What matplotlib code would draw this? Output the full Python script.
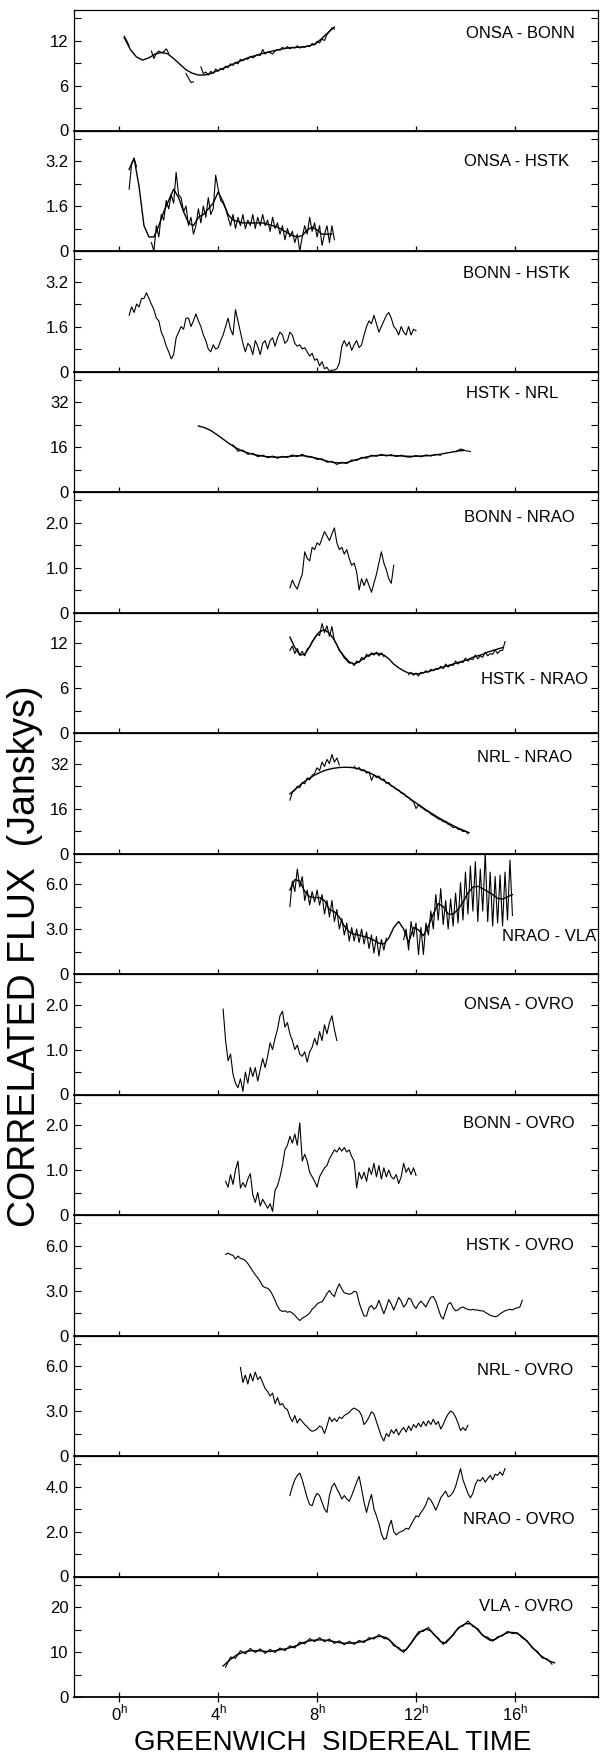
import numpy as np
import matplotlib
matplotlib.use("Agg")
import matplotlib.pyplot as plt
from matplotlib.ticker import MultipleLocator, FuncFormatter

plt.rcParams["font.family"] = ["Liberation Sans", "DejaVu Sans"]
plt.rcParams["mathtext.fontset"] = "custom"
plt.rcParams["mathtext.rm"] = "Liberation Sans"

nan = np.nan

# ---- data: correlated flux (Jy) vs GST (h), one block per baseline ----
# observed traces are sampled at 0.1 h unless noted, fits at the step given

onsa_bonn_obs = [12.6, 12.0, 11.3, nan, nan, nan, nan, nan, nan, nan, nan,
                 10.6, 9.6, 10.3, 10.6, 10.4, 10.5, 10.9, 10.3, nan, nan, nan,
                 nan, nan, nan, 7.6, 7.0, 6.4, 6.5, nan, nan,
                 8.5, 7.6, 7.8, 7.4, 7.9, 7.6, 8.2, 7.9, 8.3, 8.1, 8.6, 8.4,
                 8.9, 8.7, 9.1, 8.9, 9.5, 9.3, 9.6, 9.5, 9.9, 9.7, 9.9, 10.1,
                 10.0, 10.8, 10.2, 10.5, 10.4, 10.2, 10.6, 10.8, 10.7, 11.1,
                 10.9, 11.2, 10.9, 11.1, 11.0, 11.3, 11.0, 11.2, 11.1, 11.3,
                 11.2, 11.6, 11.4, 11.9, 11.7, 12.2, 12.0, 12.8, 13.2, 13.7, 13.5]
onsa_bonn_fit = [12.4, 10.8, 9.8, 9.4, 9.7, 10.2, 10.4, 10.25, 9.6, 8.85,
                 8.1, 7.65, 7.4, 7.4, 7.6, 7.95, 8.3, 8.65, 9.0, 9.35, 9.7,
                 9.95, 10.2, 10.4, 10.6, 10.8, 10.95, 11.05, 11.1, 11.15,
                 11.3, 11.6, 12.3, 13.1, 13.8]  # 0.25 h steps

onsa_hstk_obs = [2.2, 3.1, 3.3, 3.0, nan, nan, nan, nan, nan, 0.3, 0.0, 0.9,
                 0.5, 1.3, 1.1, 1.8, 1.5, 2.0, 1.7, 2.8, 2.0, 1.9, 1.4, 1.6,
                 0.9, 1.2, 0.6, 0.9, 1.5, 1.0, 1.6, 1.2, 1.9, 1.3, 1.5, 2.7,
                 2.2, 1.8, 1.7, 1.5, 1.2, 0.9, 1.3, 0.8, 1.2, 0.9, 1.3, 0.8,
                 1.1, 0.9, 1.3, 0.8, 1.2, 0.9, 1.3, 0.9, 1.1, 0.7, 1.2, 0.8,
                 1.0, 0.6, 0.9, 0.4, 0.8, 0.5, 0.7, 0.3, 0.6, 0.0, 0.5, 0.9,
                 0.6, 1.2, 0.7, 1.0, 0.5, 0.9, 0.2, 0.6, 0.9, 0.3, 0.9, 0.4]
onsa_hstk_fit = [2.9, 3.3, 2.3, 0.9, 0.5, 0.5, 0.9, 1.4, 1.8, 2.2, 1.9, 1.4,
                 1.0, 0.9, 1.2, 1.3, 1.5, 1.7, 2.1, 1.75, 1.3, 1.1, 1.05,
                 1.0, 1.0, 1.0, 1.0, 1.0, 0.95, 0.9, 0.85, 0.75, 0.65, 0.55,
                 0.5, 0.55, 0.75, 0.85, 0.75, 0.6, 0.6, 0.6]  # 0.2 h steps

bonn_hstk_obs = [2.0, 2.3, 2.1, 2.4, 2.3, 2.6, 2.6, 2.8, 2.6, 2.4, 2.2, 1.9,
                 1.8, 1.4, 1.2, 0.9, 0.7, 0.45, 0.6, 1.2, 1.4, 1.6, 1.5, 1.9,
                 1.9, 1.6, 1.8, 2.05, 1.8, 1.6, 1.3, 1.1, 0.8, 0.7, 0.95, 0.8,
                 0.85, 1.1, 1.3, 1.6, 1.9, 1.5, 1.3, 2.2, 1.8, 1.4, 1.0, 0.7,
                 1.0, 0.9, 0.6, 1.1, 0.9, 0.6, 1.0, 1.1, 0.8, 1.1, 1.2, 0.9,
                 1.2, 1.4, 1.3, 1.0, 1.1, 1.4, 1.3, 1.0, 0.9, 0.95, 0.8, 0.85,
                 0.7, 0.55, 0.65, 0.4, 0.45, 0.2, 0.35, 0.1, 0.15, 0.0, 0.05,
                 0.05, 0.1, 0.3, 0.9, 1.1, 0.9, 1.05, 0.75, 0.95, 1.1, 0.85,
                 0.95, 1.3, 1.6, 1.8, 1.7, 2.0, 1.7, 1.4, 1.6, 1.8, 2.0, 2.1,
                 1.9, 1.6, 1.5, 1.3, 1.6, 1.4, 1.3, 1.6, 1.3, 1.5, 1.45]

hstk_nrl_obs = [24.5, nan, nan, nan, nan, nan, nan, 16.8, 14.5, 14.9, 13.4,
                13.8, 12.6, 13.1, 12.2, 12.8, 12.0, 12.7, 12.3, 13.2, 12.6,
                13.4, 12.5, 12.4, 11.6, 11.8, 10.6, 10.9, 9.8, 10.6, 10.1,
                11.4, 11.2, 12.3, 12.0, 13.1, 12.7, 13.4, 12.8, 13.3, 12.6,
                13.1, 12.5, 12.4, 13.0, 12.5, 13.2, 12.8, 13.4, 13.1, nan,
                nan, 14.3, 15.3, 14.7, 14.4]  # 0.2 h steps
hstk_nrl_fit = [23.5, 22.9, 21.9, 20.4, 18.8, 17.2, 15.8, 14.7, 13.9, 13.3,
                12.9, 12.6, 12.45, 12.4, 12.5, 12.7, 12.9, 12.9, 12.6, 12.1,
                11.5, 10.9, 10.5, 10.3, 10.5, 11.1, 11.8, 12.4, 12.8, 13.0,
                13.1, 13.0, 12.9, 12.8, 12.7, 12.7, 12.8, 12.9, 13.1, 13.4,
                13.8, 14.2, 14.6, 14.8]  # 0.25 h steps

bonn_nrao_obs = [0.55, 0.72, 0.6, 0.52, 0.7, 0.85, 1.35, 1.2, 1.15, 1.45, 1.4,
                 1.55, 1.5, 1.65, 1.8, 1.7, 1.6, 1.75, 1.88, 1.55, 1.4, 1.45,
                 1.3, 1.4, 1.2, 1.05, 1.1, 0.9, 0.5, 0.75, 0.6, 0.75, 0.6,
                 0.45, 0.65, 0.85, 1.1, 1.35, 1.1, 0.95, 0.75, 0.65, 1.05]

hstk_nrao_obs = [11.0, 11.6, 10.6, 11.3, 10.4, 10.9, 10.3, 11.2, 11.5, 12.2,
                 12.6, 13.2, 13.0, 14.6, 13.4, 14.3, 12.9, 14.2, 12.3, 11.8,
                 11.0, 10.6, 10.0, 9.7, 9.3, 9.4, 9.0, 9.6, 9.4, 10.1, 9.8,
                 10.5, 10.2, 10.7, 10.4, 10.8, 10.3, 10.7, 10.2, nan, nan, nan,
                 nan, nan, nan, nan, nan, nan, 7.8, 8.1, 7.7, 8.0, 7.6, 8.1,
                 8.0, 8.3, 8.1, 8.5, 8.3, 8.6, 8.5, 8.9, 8.6, 9.2, 8.8, 9.1,
                 9.0, 9.6, 9.2, 9.5, 9.4, 10.0, 9.6, 9.9, 9.8, 10.4, 9.9,
                 10.3, 10.1, 10.8, 10.3, 10.6, 10.5, 11.1, 10.6, 11.0, 11.0,
                 12.2]
hstk_nrao_fit = [12.8, 11.4, 10.4, 10.5, 11.5, 12.7, 13.5, 13.8, 13.3, 12.4,
                 11.1, 10.2, 9.5, 9.2, 9.5, 10.0, 10.4, 10.6, 10.6, 10.4, 9.9,
                 9.2, 8.7, 8.3, 8.0, 7.9, 7.9, 8.05, 8.2, 8.4, 8.6, 8.8, 9.0,
                 9.2, 9.4, 9.6, 9.8, 10.1, 10.3, 10.5, 10.8, 11.0, 11.2, 11.4]  # 0.2 h

nrl_nrao_obs = [19.0, 21.8, 22.5, 23.9, 23.4, 25.3, 24.8, 26.9, 26.2, 27.8,
                28.5, 30.5, 29.5, 32.5, 31.0, 33.5, 32.0, 35.2, 32.5, 34.0,
                31.5, nan, nan, nan, nan, nan, 31.0, 30.0, 30.6, 29.4, 29.8,
                28.6, 29.0, 26.0, 28.0, 27.0, 27.6, 26.2, 26.5, 25.0, 25.3,
                24.0, 23.8, 22.8, 22.6, 21.5, 21.4, 20.3, 19.9, 19.0, 18.4,
                16.0, 17.3, 16.5, 15.9, 15.2, 14.9, 14.0, 13.5, 13.0, 12.3,
                12.0, 11.3, 11.1, 10.4, 10.0, 9.2, 9.4, 8.6, 8.5, 7.8, 8.0, 7.0]
nrl_nrao_fit = [21.2, 23.1, 25.0, 26.6, 27.9, 29.0, 29.8, 30.3, 30.6, 30.7,
                30.6, 30.2, 29.5, 28.6, 27.5, 26.2, 24.8, 23.3, 21.8, 20.2,
                18.6, 17.1, 15.6, 14.2, 12.8, 11.6, 10.4, 9.3, 8.3, 7.4]  # 0.25 h

nrao_vla_obs = [4.5, 6.2, 5.5, 7.0, 5.8, 6.5, 4.9, 5.6, 4.6, 5.5, 4.8, 5.6,
                4.6, 5.3, 4.0, 4.9, 3.8, 4.9, 3.5, 4.3, 3.0, 3.7, 2.6, 3.4,
                2.2, 3.1, 2.2, 3.0, 2.1, 3.0, 2.0, 2.8, 1.7, 2.6, 1.4, 2.5,
                1.2, 2.3, 1.6, 2.4, nan, nan, nan, nan, nan, nan, 2.3, 3.0,
                1.6, 3.5, 2.5, 3.4, 1.3, 3.1, 1.3, 3.4, 2.6, 4.2, 3.0, 5.3,
                3.6, 5.7, 3.3, 4.9, 3.0, 5.0, 3.2, 5.4, 3.4, 6.1, 3.6, 6.8,
                4.0, 7.2, 4.2, 7.5, 3.5, 7.0, 4.2, 8.1, 3.5, 6.8, 3.2, 6.5,
                3.4, 6.6, 3.2, 6.8, 3.6, 7.6, 3.9]
nrao_vla_fit = [5.6, 6.3, 6.2, 5.5, 5.15, 5.1, 5.1, 4.9, 4.3, 4.15, 3.8, 3.2,
                2.8, 2.65, 2.6, 2.5, 2.4, 2.25, 2.05, 2.0, 2.4, 3.1, 3.5, 3.0,
                2.1, 3.1, 2.95, 2.55, 3.2, 4.0, 4.7, 4.5, 4.0, 4.0, 4.3, 4.8,
                5.4, 5.8, 5.85, 5.7, 5.5, 5.3, 5.05, 5.0, 5.15, 5.3]  # 0.2 h

onsa_ovro_obs = [1.9, 1.2, 0.75, 0.9, 0.45, 0.25, 0.15, 0.35, 0.07, 0.5, 0.25,
                 0.6, 0.4, 0.6, 0.3, 0.55, 0.8, 0.6, 0.85, 1.15, 1.0, 1.25,
                 1.45, 1.75, 1.85, 1.5, 1.6, 1.35, 1.2, 1.0, 1.1, 0.9, 0.85,
                 0.95, 0.72, 0.95, 1.05, 1.25, 1.1, 1.4, 1.2, 1.55, 1.35, 1.6,
                 1.75, 1.45, 1.2]

bonn_ovro_obs = [0.75, 0.62, 0.9, 0.68, 1.0, 1.2, 0.6, 0.72, 0.62, 0.8, 0.92,
                 0.45, 0.28, 0.5, 0.2, 0.35, 0.25, 0.15, 0.25, 0.08, 0.55,
                 0.65, 0.85, 1.1, 1.45, 1.55, 1.75, 1.6, 1.8, 1.55, 2.05, 1.2,
                 1.35, 1.2, 0.95, 0.85, 0.75, 0.62, 0.85, 0.95, 1.05, 1.1,
                 1.25, 1.35, 1.45, 1.4, 1.5, 1.42, 1.5, 1.4, 1.45, 1.3, 1.2,
                 0.6, 0.95, 0.8, 0.95, 0.75, 1.05, 0.9, 1.15, 0.85, 1.1, 0.8,
                 1.05, 0.85, 1.0, 0.85, 0.8, 0.9, 0.7, 0.85, 1.15, 0.95, 1.05,
                 0.9, 1.05, 0.88]

hstk_ovro_obs = [5.4, 5.5, 5.4, 5.35, 5.1, 5.3, 5.15, 5.1, 5.0, 4.8, 4.55,
                 4.3, 4.05, 3.85, 3.6, 3.3, 3.2, 3.15, 3.0, 2.7, 2.35, 1.95,
                 1.7, 1.6, 1.65, 1.55, 1.6, 1.5, 1.35, 1.15, 1.0, 1.15, 1.25,
                 1.35, 1.5, 1.75, 1.9, 2.1, 2.2, 2.25, 2.5, 2.8, 3.0, 2.75,
                 2.6, 3.1, 3.45, 3.1, 2.85, 2.8, 2.75, 2.8, 2.95, 2.9, 2.2,
                 1.7, 1.3, 1.3, 1.85, 2.0, 1.75, 1.9, 2.35, 1.9, 1.45, 1.9,
                 2.4, 2.1, 1.7, 2.1, 2.55, 2.3, 1.9, 2.1, 2.5, 2.4, 2.0, 1.8,
                 2.1, 2.3, 2.1, 1.9, 2.25, 2.55, 2.6, 2.3, 1.8, 1.3, 1.1, 1.6,
                 2.1, 2.2, 1.85, 1.65, 1.7, 1.85, 1.9, 1.8, 1.75, 1.7, 1.75,
                 1.7, 1.7, 1.65, 1.65, 1.55, 1.45, 1.35, 1.3, 1.25, 1.3, 1.45,
                 1.55, 1.65, 1.7, 1.75, 1.7, 1.8, 1.85, 1.9, 2.35]

nrl_ovro_obs = [5.9, 4.9, 5.4, 4.8, 5.5, 5.0, 5.6, 5.1, 5.3, 4.9, 4.5, 4.3,
                4.0, 4.2, 3.5, 3.9, 3.4, 3.5, 3.2, 3.1, 2.6, 2.3, 2.7, 2.2,
                2.5, 2.3, 2.1, 1.95, 1.75, 1.65, 1.7, 1.8, 2.0, 1.9, 1.5, 2.0,
                2.6, 2.3, 2.5, 2.3, 2.6, 2.5, 2.7, 2.8, 2.9, 3.1, 3.2, 3.1,
                3.0, 2.7, 2.1, 2.3, 2.6, 2.95, 2.8, 2.3, 1.8, 1.3, 1.0, 1.5,
                1.3, 1.75, 1.5, 1.8, 1.4, 1.7, 1.9, 1.6, 2.0, 1.7, 2.1, 1.9,
                2.2, 1.95, 2.3, 2.0, 2.35, 2.1, 2.45, 2.1, 2.3, 1.8, 2.1, 2.5,
                2.8, 3.0, 2.9, 2.6, 2.2, 1.7, 1.9, 1.7, 2.05]

nrao_ovro_obs = [3.6, 4.0, 4.3, 4.5, 4.6, 4.3, 3.9, 3.5, 3.2, 3.15, 3.5, 3.7,
                 3.6, 3.3, 3.0, 2.85, 3.6, 4.0, 4.15, 3.9, 3.7, 3.45, 3.6,
                 3.45, 3.35, 3.6, 3.9, 4.2, 4.45, 3.9, 3.3, 2.85, 3.3, 3.65,
                 3.0, 2.7, 2.35, 1.9, 1.65, 1.7, 2.2, 2.5, 2.0, 1.85, 1.95,
                 2.0, 2.05, 2.15, 2.1, 2.3, 2.5, 2.7, 2.65, 2.85, 3.0, 3.2,
                 3.5, 3.4, 3.2, 2.95, 3.2, 3.5, 3.65, 3.8, 3.55, 3.6, 3.75,
                 4.0, 4.4, 4.8, 4.3, 4.0, 3.7, 3.5, 3.7, 4.1, 4.3, 4.25, 4.4,
                 4.2, 4.35, 4.5, 4.3, 4.55, 4.5, 4.65, 4.5, 4.8]

vla_ovro_obs = [6.6, 8.9, 8.6, 10.3, 9.6, 10.8, 9.9, 10.7, 9.7, 10.6, 9.9,
                10.9, 10.3, 11.4, 10.9, 12.2, 11.8, 13.0, 12.3, 13.2, 12.3,
                12.9, 11.9, 12.5, 11.6, 12.4, 11.7, 12.6, 12.1, 13.2, 12.9,
                13.9, 13.0, 12.9, 11.4, 11.0, 9.9, 11.3, 12.9, 14.5, 14.6,
                15.5, 14.0, 13.1, 11.7, 12.8, 13.7, 15.4, 15.8, 16.9, 15.7,
                15.2, 13.6, 13.3, 12.4, 13.4, 13.6, 14.6, 14.1, 14.3, 13.1,
                12.5, 10.9, 10.2, 8.7, 8.5, 7.3]  # 0.2 h steps
vla_ovro_fit = [6.9, 7.9, 8.8, 9.5, 9.9, 10.2, 10.3, 10.3, 10.2, 10.1, 10.2,
                10.4, 10.6, 10.8, 11.1, 11.5, 12.0, 12.4, 12.6, 12.7, 12.7,
                12.6, 12.4, 12.2, 12.0, 11.95, 12.0, 12.1, 12.3, 12.6, 13.0,
                13.4, 13.5, 13.2, 12.3, 11.2, 10.3, 10.5, 11.9, 13.5, 14.6,
                15.1, 14.7, 13.5, 12.3, 12.0, 13.2, 14.6, 15.7, 16.3, 16.3,
                15.5, 14.3, 13.3, 12.6, 12.8, 13.5, 14.1, 14.4, 14.3, 13.8,
                12.9, 11.7, 10.5, 9.4, 8.6, 8.0, 7.6]  # 0.2 h steps

# panel table, top to bottom:
# label, tick step, tick format, (obs, start, step), (fit, start, step), label x, label y
panels = [
    ("ONSA - BONN", 6, "%d", (onsa_bonn_obs, 0.2, 0.1), (onsa_bonn_fit, 0.2, 0.25), 18.43, 13.0),
    ("ONSA - HSTK", 1.6, "%.1f", (onsa_hstk_obs, 0.4, 0.1), (onsa_hstk_fit, 0.4, 0.2), 18.21, 3.2),
    ("BONN - HSTK", 1.6, "%.1f", (bonn_hstk_obs, 0.4, 0.1), None, 18.24, 3.5),
    ("HSTK - NRL", 16, "%d", (hstk_nrl_obs, 3.2, 0.2), (hstk_nrl_fit, 3.2, 0.25), 17.76, 34.9),
    ("BONN - NRAO", 1.0, "%.1f", (bonn_nrao_obs, 6.9, 0.1), None, 18.41, 2.12),
    ("HSTK - NRAO", 6, "%d", (hstk_nrao_obs, 6.9, 0.1), (hstk_nrao_fit, 6.9, 0.2), 18.97, 7.2),
    ("NRL - NRAO", 16, "%d", (nrl_nrao_obs, 6.9, 0.1), (nrl_nrao_fit, 6.9, 0.25), 18.34, 34.3),
    ("NRAO - VLA", 3.0, "%.1f", (nrao_vla_obs, 6.9, 0.1), (nrao_vla_fit, 6.9, 0.2), 19.3, 2.5),
    ("ONSA - OVRO", 1.0, "%.1f", (onsa_ovro_obs, 4.2, 0.1), None, 18.38, 2.0),
    ("BONN - OVRO", 1.0, "%.1f", (bonn_ovro_obs, 4.3, 0.1), None, 18.4, 2.03),
    ("HSTK - OVRO", 3.0, "%.1f", (hstk_ovro_obs, 4.3, 0.1), None, 18.4, 6.0),
    ("NRL - OVRO", 3.0, "%.1f", (nrl_ovro_obs, 4.9, 0.1), None, 18.37, 5.73),
    ("NRAO - OVRO", 2.0, "%.1f", (nrao_ovro_obs, 6.9, 0.1), None, 18.4, 2.54),
    ("VLA - OVRO", 10, "%d", (vla_ovro_obs, 4.3, 0.2), (vla_ovro_fit, 4.2, 0.2), 18.37, 20.2),
]

gst_ticks = [0, 4, 8, 12, 16]


def series(vals, start, step):
    y = np.asarray(vals, dtype=float)
    return start + step * np.arange(len(y)), y


def tick_fmt(fmt):
    def f(v, pos):
        if abs(v) < 1e-9:
            return "0"
        return fmt % v
    return f


W, H = 603, 1754
fig = plt.figure(figsize=(W / 100, H / 100), dpi=100)

left_px, right_px = 74, 598
top_px, bottom_px = 10, 1697
ph = (bottom_px - top_px) / len(panels)

for i, (name, step, fmt, obs, fit, lx, ly) in enumerate(panels):
    y0 = bottom_px - (len(panels) - 1 - i) * ph
    ax = fig.add_axes([left_px / W, 1 - y0 / H, (right_px - left_px) / W, ph / H])

    if fit is not None:
        fx, fy = series(*fit)
        ax.plot(fx, fy, color="black", lw=1.0)
    ox, oy = series(*obs)
    ax.plot(ox, oy, color="black", lw=0.8)

    ax.text(lx, ly, name, ha="right", va="center", fontsize=12)

    ax.set_xlim(-1.83, 19.36)
    ax.set_ylim(0, 2.68 * step)
    ax.set_xticks(gst_ticks)
    ax.yaxis.set_major_locator(MultipleLocator(step))
    ax.yaxis.set_minor_locator(MultipleLocator(step / 2))
    ax.yaxis.set_major_formatter(FuncFormatter(tick_fmt(fmt)))

    ax.tick_params(axis="y", which="both", direction="in", length=5,
                   width=0.8, left=True, right=True, labelsize=12, pad=4)
    ax.tick_params(axis="x", direction="inout", length=7, width=0.9,
                   top=False, labelsize=12, pad=1)
    for side in ("left", "right", "top"):
        ax.spines[side].set_linewidth(0.9)
    ax.spines["bottom"].set_linewidth(1.3)

    if i < len(panels) - 1:
        ax.tick_params(axis="x", labelbottom=False)
    else:
        ax.set_xticklabels([r"$%d^{\mathrm{h}}$" % t for t in gst_ticks])

fig.text(25 / W, 1 - 956 / H, "CORRELATED FLUX  (Janskys)", rotation=90,
         ha="center", va="center", fontsize=27)
fig.text(333 / W, 1 - 1743 / H, "GREENWICH  SIDEREAL TIME",
         ha="center", va="center", fontsize=20)

fig.savefig("out.png", dpi=100)
